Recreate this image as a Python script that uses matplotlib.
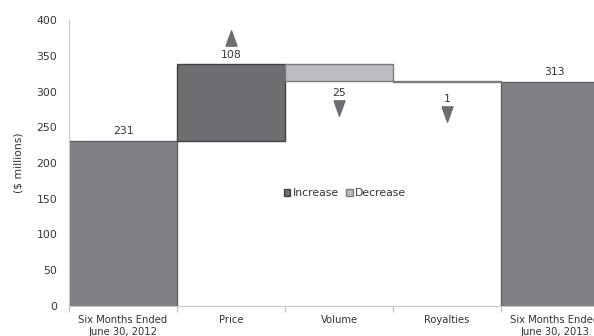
import matplotlib
matplotlib.use("Agg")
import matplotlib.pyplot as plt
from matplotlib.patches import Patch
from matplotlib.path import Path
from matplotlib.transforms import offset_copy

plt.rcParams['font.family'] = ['DejaVu Sans']

categories = ["Six Months Ended\nJune 30, 2012", "Price", "Volume", "Royalties",
              "Six Months Ended\nJune 30, 2013"]
start_value = 231
changes = [108, -25, -1]
end_value = 313
y_ticks = [0, 50, 100, 150, 200, 250, 300, 350, 400]

base_color = "#808184"
base_edge = "#5e5f62"
inc_color = "#6d6e71"
inc_edge = "#3f4042"
dec_color = "#bcbdc0"
dec_edge = "#7a7b7e"
arrow_color = "#6d6e71"
text_color = "#333333"

fig = plt.figure(figsize=(5.94, 3.36), dpi=100)
ax = fig.add_axes([69 / 594, 1 - 306 / 336, 540 / 594, 286 / 336])

x = list(range(len(categories)))

# totals
ax.bar(x[0], start_value, width=1.0, color=base_color, edgecolor=base_edge, linewidth=1.0, zorder=2)
ax.bar(x[-1], end_value, width=1.0, color=base_color, edgecolor=base_edge, linewidth=1.0, zorder=2)

lbl_kw = dict(ha="center", va="center", fontsize=7.8, color=text_color)
ax.annotate(str(start_value), (x[0], start_value), xytext=(0, 7), textcoords="offset points", **lbl_kw)
ax.annotate(str(end_value), (x[-1], end_value), xytext=(0, 7), textcoords="offset points", **lbl_kw)

tri_up = Path([(-0.36, -0.5), (0.36, -0.5), (0.0, 0.5), (-0.36, -0.5)])
tri_down = Path([(-0.36, 0.5), (0.36, 0.5), (0.0, -0.5), (-0.36, 0.5)])

# floating changes
label_off = [6.5, 8, 12]
arrow_off = [18.5, 19, 23]
level = start_value
for i, d in enumerate(changes):
    xi = x[i + 1]
    lo, hi = min(level, level + d), max(level, level + d)
    if d >= 0:
        ax.bar(xi, hi - lo, bottom=lo, width=1.0, color=inc_color, edgecolor=inc_edge, linewidth=1.0, zorder=2)
        ax.annotate(str(abs(d)), (xi, hi), xytext=(0, label_off[i]), textcoords="offset points", **lbl_kw)
        tr = offset_copy(ax.transData, fig=fig, x=0, y=arrow_off[i], units="points")
        ax.plot([xi], [hi], marker=tri_up, markersize=11, color=arrow_color, transform=tr, clip_on=False)
    else:
        ax.bar(xi, hi - lo, bottom=lo, width=1.0, color=dec_color, edgecolor=dec_edge, linewidth=1.0, zorder=2)
        ax.annotate(str(abs(d)), (xi, lo), xytext=(0, -label_off[i]), textcoords="offset points", **lbl_kw)
        tr = offset_copy(ax.transData, fig=fig, x=0, y=-arrow_off[i], units="points")
        ax.plot([xi], [lo], marker=tri_down, markersize=11, color=arrow_color, transform=tr, clip_on=False)
    level += d

ax.set_xlim(-0.5, len(categories) - 0.5)
ax.set_ylim(0, 400)
ax.set_yticks(y_ticks)
ax.set_xticks(x)
ax.set_xticklabels(categories, fontsize=7.2, color=text_color, linespacing=1.3)
ax.set_xticks([i - 0.5 for i in range(len(categories) + 1)], minor=True)
ax.tick_params(axis="x", which="major", length=0, pad=6.5)
ax.tick_params(axis="x", which="minor", length=4, color="#c8c8c8", width=1)
ax.tick_params(axis="y", length=0, labelsize=7.8, labelcolor=text_color, pad=8.5)
ax.set_ylabel("($ millions)", fontsize=7.8, color=text_color, labelpad=9)

for s in ["top", "right"]:
    ax.spines[s].set_visible(False)
ax.spines["left"].set_color("#c8c8c8")
ax.spines["bottom"].set_color("#c8c8c8")

handles = [Patch(facecolor=inc_color, edgecolor=inc_edge, label="Increase"),
           Patch(facecolor=dec_color, edgecolor=dec_edge, label="Decrease")]
ax.legend(handles=handles, loc="center", bbox_to_anchor=(0.511, 0.395), ncol=2, frameon=False,
          fontsize=7.8, handlelength=0.6, handleheight=0.6, handletextpad=0.2, columnspacing=0.7,
          labelcolor=text_color)

fig.savefig("out.png", dpi=100)
